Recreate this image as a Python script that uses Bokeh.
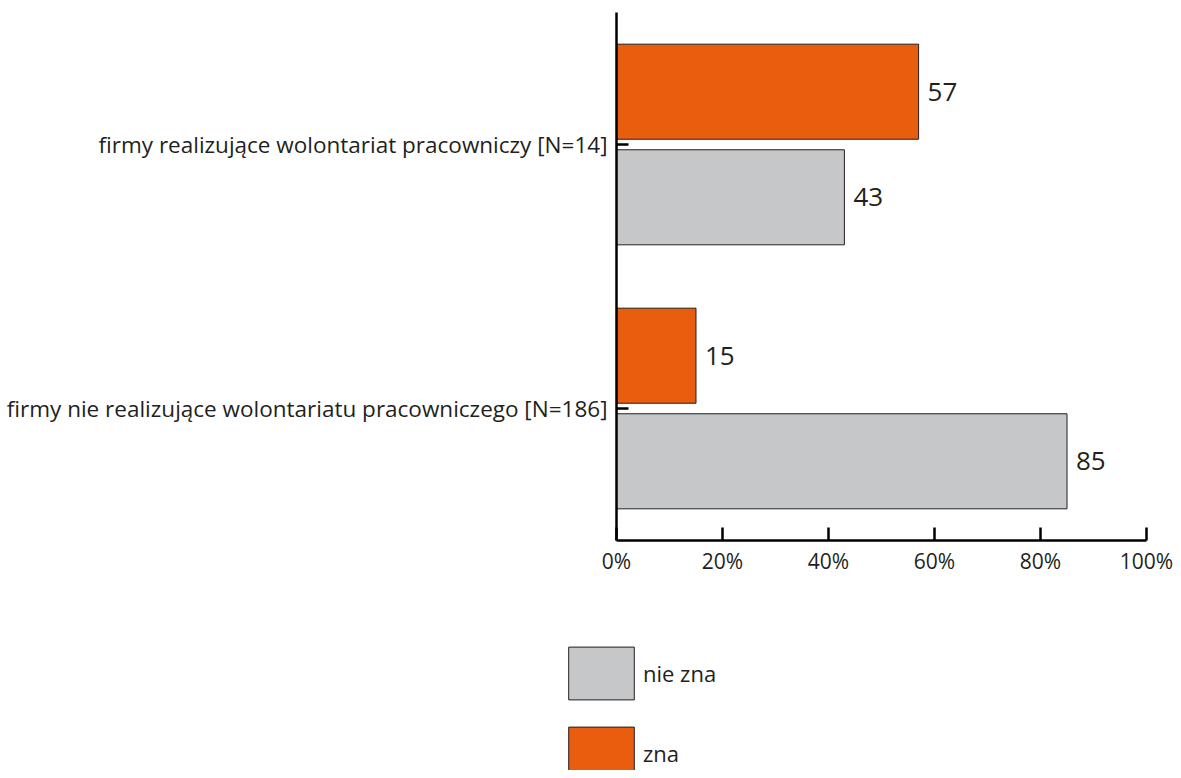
from bokeh.plotting import figure
from bokeh.models import ColumnDataSource, FactorRange, Legend, LegendItem, FixedTicker
from bokeh.layouts import column
from bokeh.transform import dodge
from bokeh.core.properties import value
from bokeh.embed import file_html
from bokeh.resources import INLINE

categories = ["firmy realizujące wolontariat pracowniczy [N=14]",
              "firmy nie realizujące wolontariatu pracowniczego [N=186]"]
zna = [57, 15]
nie_zna = [43, 85]
x_ticks = [0, 20, 40, 60, 80, 100]
legend_labels = ["nie zna", "zna"]

FONT = "Open Sans"
ORANGE = "#E95D0F"
GREY = "#C6C7C9"
INK = "#231F20"

src = ColumnDataSource(dict(cat=categories, zna=zna, nie_zna=nie_zna,
                            zna_lbl=[str(v) for v in zna],
                            nie_lbl=[str(v) for v in nie_zna]))

p = figure(width=1173, height=600, output_backend="svg", toolbar_location=None,
           y_range=FactorRange(factors=list(reversed(categories))),
           x_range=(0, 100), min_border_left=616, min_border_right=27,
           min_border_top=12, min_border_bottom=60)
p.frame_align = False

p.hbar(y=dodge("cat", -0.2, range=p.y_range), right="nie_zna", left=0, height=0.36,
       source=src, fill_color=GREY, line_color=INK, line_width=1)
p.hbar(y=dodge("cat", 0.2, range=p.y_range), right="zna", left=0, height=0.36,
       source=src, fill_color=ORANGE, line_color=INK, line_width=1)

p.text(x="zna", y=dodge("cat", 0.2, range=p.y_range), text="zna_lbl", source=src,
       x_offset=9, text_baseline="middle", text_font=value(FONT), text_font_size="26px",
       text_color=INK)
p.text(x="nie_zna", y=dodge("cat", -0.2, range=p.y_range), text="nie_lbl", source=src,
       x_offset=9, text_baseline="middle", text_font=value(FONT), text_font_size="26px",
       text_color=INK)

p.xgrid.grid_line_color = None
p.ygrid.grid_line_color = None
p.outline_line_color = None

p.xaxis.ticker = FixedTicker(ticks=x_ticks)
p.xaxis.major_label_overrides = {t: f"{t}%" for t in x_ticks}
p.xaxis.major_tick_in = 13
p.xaxis.major_tick_out = 0
p.xaxis.minor_tick_line_color = None
p.xaxis.axis_line_width = 2.5
p.xaxis.major_tick_line_width = 2.5
p.xaxis.major_label_text_font = FONT
p.xaxis.major_label_text_font_size = "21px"
p.xaxis.major_label_text_color = INK
p.xaxis.major_label_standoff = 6

p.yaxis.major_tick_in = 12
p.yaxis.major_tick_out = 0
p.yaxis.axis_line_width = 2.5
p.yaxis.major_tick_line_width = 2.5
p.yaxis.major_label_text_font = FONT
p.yaxis.major_label_text_font_size = "22.5px"
p.yaxis.major_label_text_color = INK
p.yaxis.major_label_standoff = 9

# legend panel below the chart: its ranges lie far from the data, so only the swatches show
lg = figure(width=1173, height=170, output_backend="svg", toolbar_location=None,
            x_range=(1000, 1001), y_range=(1000, 1001),
            min_border_left=560, min_border_top=40, min_border_right=0, min_border_bottom=0,
            x_axis_type=None, y_axis_type=None)
lg.frame_align = False
lg.xgrid.grid_line_color = None
lg.ygrid.grid_line_color = None
lg.outline_line_color = None
l_nie = lg.hbar(y="nie_zna", left=0, right="nie_zna", height=0.5, source=src,
                fill_color=GREY, line_color=INK, line_width=1)
l_zna = lg.hbar(y="zna", left=0, right="zna", height=0.5, source=src,
                fill_color=ORANGE, line_color=INK, line_width=1)

legend = Legend(items=[LegendItem(label=legend_labels[0], renderers=[l_nie]),
                       LegendItem(label=legend_labels[1], renderers=[l_zna])],
                location="top_left", glyph_width=82, glyph_height=66, spacing=14,
                label_text_font=FONT, label_text_font_size="22px", label_text_color=INK,
                border_line_color=None, background_fill_alpha=0, padding=0, margin=0,
                label_standoff=1)
lg.add_layout(legend)

layout = column(p, lg, spacing=0)
open("out.html", "w").write(file_html(layout, INLINE))
